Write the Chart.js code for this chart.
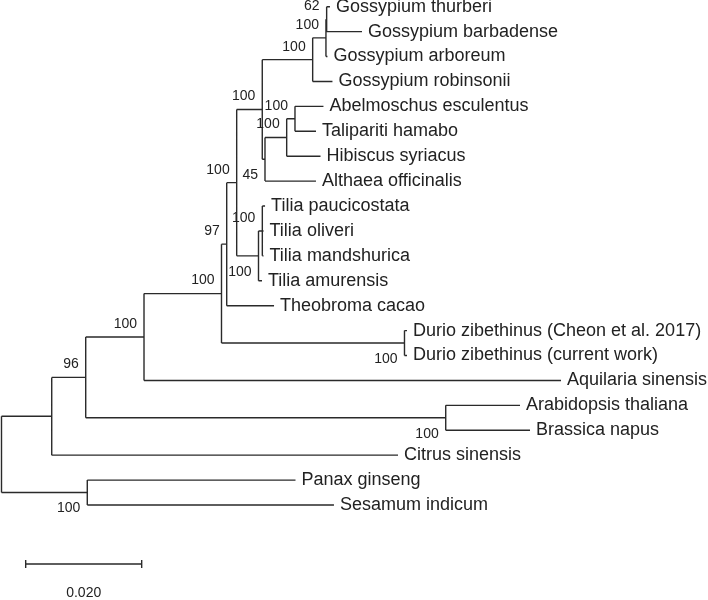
<!DOCTYPE html>
<html>
<head>
<meta charset="utf-8">
<script src="https://cdn.jsdelivr.net/npm/chart.js@4.4.0/dist/chart.umd.min.js"></script>
<style>
  html, body { margin: 0; padding: 0; background: #fff; }
  #wrap { width: 708px; height: 600px; }
</style>
</head>
<body>
<div id="wrap"><canvas id="tree" width="708" height="600"></canvas></div>
<script>
// taxa, top to bottom as they appear in the tree
const taxa = [
  'Gossypium thurberi', 'Gossypium barbadense', 'Gossypium arboreum', 'Gossypium robinsonii',
  'Abelmoschus esculentus', 'Talipariti hamabo', 'Hibiscus syriacus', 'Althaea officinalis',
  'Tilia paucicostata', 'Tilia oliveri', 'Tilia mandshurica', 'Tilia amurensis',
  'Theobroma cacao', 'Durio zibethinus (Cheon et al. 2017)', 'Durio zibethinus (current work)',
  'Aquilaria sinensis', 'Arabidopsis thaliana', 'Brassica napus', 'Citrus sinensis',
  'Panax ginseng', 'Sesamum indicum'
];
const taxonParent = ['g3', 'g3', 'g2', 'goss', 'm4', 'm4', 'm3', 'm2', 'n1', 'n1', 'n1', 'n0',
  'e', 'durio', 'durio', 'c', 'ab', 'ab', 'a', 'ps', 'ps'];
const taxonBranch = [0.00057, 0.00609, 0.00026, 0.00341, 0.00491, 0.00362, 0.00583, 0.00879,
  0.00047, 0.00021, 0.00021, 0.00060, 0.00816, 0.00043, 0.00043, 0.07190, 0.01281, 0.01453,
  0.05971, 0.03590, 0.04253];

// internal nodes (root is implicit)
const nodes      = ['a', 'b', 'c', 'd', 'e', 'f', 'malv', 'goss', 'g2', 'g3', 'm2', 'm3', 'm4', 'n0', 'n1', 'durio', 'ab', 'ps'];
const nodeParent = ['root', 'a', 'b', 'c', 'd', 'e', 'f', 'malv', 'goss', 'g2', 'malv', 'm2', 'm3', 'f', 'n0', 'd', 'b', 'root'];
const nodeBranch = [0.00866, 0.00586, 0.01005, 0.01336, 0.00090, 0.00172, 0.00441, 0.00869, 0.00229,
  0.00012, 0.00047, 0.00374, 0.00143, 0.00376, 0.00066, 0.03155, 0.06207, 0.01479];
const bootstrap  = [null, 96, 100, 100, 97, 100, 100, 100, 100, 62, 45, 100, 100, 100, 100, 100, 100, 100];

const scaleBarValue = 0.02;
const scaleBarLabel = '0.020';

// ---- build tree geometry ----
const parentOf = {}, branchOf = {}, kids = { root: [] };
nodes.forEach((n, i) => { parentOf[n] = nodeParent[i]; branchOf[n] = nodeBranch[i]; kids[n] = []; });
taxa.forEach((t, i) => { parentOf[t] = taxonParent[i]; branchOf[t] = taxonBranch[i]; });
nodes.forEach(n => kids[parentOf[n]].push(n));
taxa.forEach(t => kids[parentOf[t]].push(t));

const depth = { root: 0 }, yPos = {};
function getDepth(n) {
  if (depth[n] === undefined) depth[n] = getDepth(parentOf[n]) + branchOf[n];
  return depth[n];
}
function getY(n) {
  if (yPos[n] !== undefined) return yPos[n];
  if (taxa.includes(n)) return (yPos[n] = taxa.indexOf(n));
  const ys = kids[n].map(getY);
  return (yPos[n] = (Math.min(...ys) + Math.max(...ys)) / 2);
}
[...nodes, ...taxa].forEach(getDepth);
getY('root');

// branches: horizontal per node, vertical per internal node
const branchPts = [];
[...nodes, ...taxa].forEach(n => {
  branchPts.push({ x: depth[parentOf[n]], y: yPos[n] }, { x: depth[n], y: yPos[n] }, { x: depth[n], y: null });
});
['root', ...nodes].forEach(n => {
  const ys = kids[n].map(k => yPos[k]);
  branchPts.push({ x: depth[n], y: Math.min(...ys) }, { x: depth[n], y: Math.max(...ys) }, { x: depth[n], y: null });
});

// scale bar placement
const sbX = 0.00417, sbY = 22.37, sbTick = 0.16, sbLabelY = 23.55;
const scalePts = [
  { x: sbX, y: sbY }, { x: sbX + scaleBarValue, y: sbY }, { x: sbX, y: null },
  { x: sbX, y: sbY - sbTick }, { x: sbX, y: sbY + sbTick }, { x: sbX, y: null },
  { x: sbX + scaleBarValue, y: sbY - sbTick }, { x: sbX + scaleBarValue, y: sbY + sbTick }
];

const treeText = {
  id: 'treeText',
  afterDatasetsDraw(chart) {
    const { ctx, scales: { x, y } } = chart;
    ctx.save();
    ctx.fillStyle = '#222';
    ctx.textBaseline = 'middle';
    ctx.font = '18px "Liberation Sans", Arial, sans-serif';
    ctx.textAlign = 'left';
    taxa.forEach((t, i) => {
      ctx.fillText(t, x.getPixelForValue(depth[t]) + 6, y.getPixelForValue(i));
    });
    ctx.font = '14px "Liberation Sans", Arial, sans-serif';
    ctx.textAlign = 'right';
    nodes.forEach((n, i) => {
      if (bootstrap[i] == null) return;
      const up = yPos[n] < yPos[parentOf[n]];
      ctx.fillText(String(bootstrap[i]), x.getPixelForValue(depth[n]) - 7,
        y.getPixelForValue(yPos[n]) + (up ? -13 : 16));
    });
    ctx.textAlign = 'center';
    ctx.fillText(scaleBarLabel, x.getPixelForValue(sbX + scaleBarValue / 2), y.getPixelForValue(sbLabelY));
    ctx.restore();
  }
};

const perPx = scaleBarValue / 116;
new Chart(document.getElementById('tree'), {
  type: 'scatter',
  plugins: [treeText],
  data: {
    datasets: [
      { data: branchPts, showLine: true, borderColor: '#2a2a2a', borderWidth: 1.4, pointRadius: 0, clip: false },
      { data: scalePts, showLine: true, borderColor: '#2a2a2a', borderWidth: 1.4, pointRadius: 0, clip: false }
    ]
  },
  options: {
    responsive: false,
    animation: false,
    layout: { padding: 0 },
    plugins: { legend: { display: false }, tooltip: { enabled: false } },
    scales: {
      x: { type: 'linear', display: false, min: -1.5 * perPx, max: (708 - 1.5) * perPx },
      y: { type: 'linear', display: false, reverse: true, min: -6.7 / 24.915, max: (600 - 6.7) / 24.915 }
    }
  }
});
</script>
</body>
</html>
